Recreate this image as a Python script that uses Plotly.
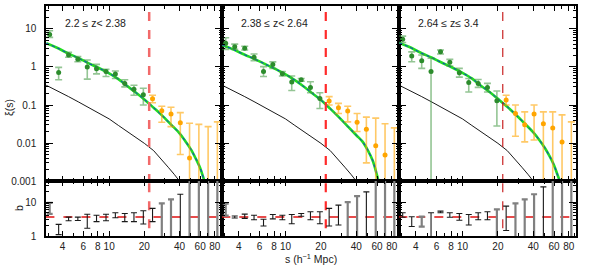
import plotly.graph_objects as go
import math

# ---------------- data ----------------
S = [3.1, 3.7, 4.5, 5.4, 6.5, 7.8, 9.4, 11.3, 13.6, 16.3, 19.6,
     23.5, 28.2, 33.8, 40.6, 48.7, 58.5, 70.2, 84.2]
N_SMALL = 11  # first bins (green), the rest orange

PANEL_LABELS = ["2.2 \u2264 z< 2.38", "2.38 \u2264 z< 2.64", "2.64 \u2264 z\u2264 3.4"]
S_CUT = 22

# panel 1 xi(s)
XI1 = [7.2, 0.72, 2.07, 1.59, 1.0, 0.9, 0.76, 0.65, 0.37, 0.26, 0.186,
       0.147, 0.071, 0.058, 0.034, 0.004, 0.0005, 0.0005, 0.0005]
XI1_HI = [9.0, 0.98, 2.43, 1.87, 1.53, 1.17, 0.87, 0.785, 0.46, 0.33, 0.275,
          0.18, 0.093, 0.087, 0.063, 0.033, 0.031, 0.027, 0.036]
XI1_LO = [6.0, 0.46, 1.8, 1.38, 0.48, 0.66, 0.56, 0.5, 0.30, 0.18, 0.10,
          0.115, 0.035, 0.027, 0.005, 1e-5, 1e-5, 1e-5, 1e-5]

# panel 2 xi(s)
XI2 = [4.2, 3.4, 3.1, 1.8, 0.76, 1.17, 0.66, 0.4, 0.46, 0.29, 0.148,
       0.127, 0.085, 0.069, 0.035, 0.023, 0.0085, 0.0048, 0.0005]
XI2_HI = [5.9, 4.0, 3.5, 2.2, 1.02, 1.36, 0.76, 0.58, 0.5, 0.41, 0.21,
          0.166, 0.11, 0.093, 0.06, 0.048, 0.045, 0.032, 0.025]
XI2_LO = [2.9, 2.9, 2.8, 1.47, 0.56, 0.92, 0.58, 0.24, 0.42, 0.21, 0.081,
          0.10, 0.06, 0.036, 0.02, 0.003, 1e-5, 1e-5, 1e-5]

# panel 3 xi(s)
XI3 = [5.35, 1.95, 1.47, 0.76, 2.5, 1.33, 0.71, 0.39, 0.37, 0.29, 0.13,
       0.135, 0.06, 0.03, 0.058, 0.032, 0.025, 0.0107, 0.0005]
XI3_HI = [6.5, 2.5, 2.07, 1.7, 2.8, 1.59, 0.92, 0.5, 0.47, 0.37, 0.234,
          0.18, 0.10, 0.066, 0.10, 0.066, 0.066, 0.055, 0.036]
XI3_LO = [4.4, 1.38, 0.92, 1e-5, 2.2, 1.06, 0.54, 0.22, 0.29, 0.22, 0.028,
          0.10, 0.015, 0.0107, 0.012, 1e-5, 1e-5, 1e-5, 1e-5]

# model curves
S_MODEL = [2.9, 3.5, 4.5, 5.5, 6.5, 8, 10, 12, 14, 17, 20, 24, 28, 34, 40,
           45, 50, 55, 60, 64, 68]
MODEL1 = [4.2, 3.3, 2.25, 1.7, 1.3, 0.97, 0.68, 0.48, 0.33, 0.21, 0.14, 0.085,
          0.055, 0.03, 0.018, 0.011, 0.0068, 0.0039, 0.0022, 0.0012, 0.0006]
MODEL2 = [3.8, 3.0, 2.1, 1.6, 1.25, 0.92, 0.64, 0.45, 0.32, 0.2, 0.135, 0.08,
          0.05, 0.027, 0.016, 0.011, 0.0065, 0.0035, 0.0014, 0.0006, 0.0003]
MODEL3 = [4.3, 3.4, 2.3, 1.75, 1.35, 1.0, 0.7, 0.5, 0.34, 0.22, 0.145, 0.09,
          0.058, 0.032, 0.019, 0.012, 0.0075, 0.0045, 0.0026, 0.0015, 0.0009]

S_LIN = [2.9, 3.5, 4.5, 5.5, 6.5, 8, 10, 12, 14, 17, 20, 24, 28, 32, 36, 40, 44]
XI_LIN = [0.33, 0.249, 0.166, 0.119, 0.089, 0.065, 0.043, 0.029, 0.021, 0.0138,
          0.0098, 0.0063, 0.0038, 0.0023, 0.0015, 0.001, 0.00068]

# bias b(s): upper / lower ends of each bar
B1_HI = [9.5, 2.2, 3.6, 3.6, 4.35, 4.1, 4.35, 4.85, 4.6, 4.85, 5.55, 6.5, 9.2, 12, 17, 100, 100, 100, 100]
B1_LO = [4.5, 1.1, 2.8, 2.85, 1.7, 2.65, 2.8, 3.45, 2.65, 2.65, 2.25, 2.65, 0.5, 0.5, 0.5, 0.5, 0.5, 0.5, 0.5]
B2_HI = [9.0, 3.9, 4.4, 4.1, 3.1, 4.3, 4.1, 4.3, 4.6, 5.2, 5.2, 6.5, 8.1, 10, 15, 20, 100, 100, 100]
B2_LO = [4.0, 3.4, 3.3, 3.0, 1.97, 3.2, 3.0, 2.3, 3.8, 3.0, 2.3, 1.97, 2.1, 0.5, 0.5, 0.5, 0.5, 0.5, 0.5]
B3_HI = [4.85, 3.7, 3.7, 4.85, 5.4, 4.85, 4.6, 4.3, 4.85, 5.2, 6.1, 7.6, 9.2, 12, 17, 28, 100, 100, 100]
B3_LO = [3.55, 1.9, 1.9, 0.5, 4.85, 3.55, 2.9, 2.1, 3.0, 3.0, 0.5, 1.45, 0.5, 0.5, 0.5, 0.5, 0.5, 0.5, 0.5]
B_FID = 3.6

# ---------------- styles ----------------
GREY_BINS = [[0, 12, 13, 15, 16, 17, 18], [0, 13, 14, 16, 17, 18], [2, 10, 12, 13, 14, 16, 17, 18]]
VLINE_STYLE = [dict(color="#F26A6A", width=2.5, dash="dash"),
               dict(color="#FF2A2A", width=2.2, dash="dash"),
               dict(color="#C41010", width=1.1, dash="dash")]

W, H = 590, 272
LEFT = [46, 222, 399]
RIGHT = [222, 399, 576]
TOP, MID, BOT = 6, 181, 236
XR = [0.46, 1.965]
YR_TOP = [-3, 1.605]
YR_BOT = [0, 1.62]
FONT = "Liberation Sans, Arial, sans-serif"
TXT = "#222222"

fig = go.Figure()

XI = [XI1, XI2, XI3]
XI_HI = [XI1_HI, XI2_HI, XI3_HI]
XI_LO = [XI1_LO, XI2_LO, XI3_LO]
MODELS = [MODEL1, MODEL2, MODEL3]
B_HI = [B1_HI, B2_HI, B3_HI]
B_LO = [B1_LO, B2_LO, B3_LO]

for i in range(3):
    xt = "x" if i == 0 else f"x{i+1}"
    yt = "y" if i == 0 else f"y{i+1}"
    xb = f"x{i+4}"
    yb = f"y{i+4}"

    # curves
    fig.add_trace(go.Scatter(x=S_LIN, y=XI_LIN, mode="lines", xaxis=xt, yaxis=yt,
                             line=dict(color="black", width=0.9), showlegend=False))
    fig.add_trace(go.Scatter(x=S_MODEL, y=MODELS[i], mode="lines", xaxis=xt, yaxis=yt,
                             line=dict(color="#22DD22", width=2.6, shape="spline"), showlegend=False))
    fig.add_trace(go.Scatter(x=S_MODEL, y=MODELS[i], mode="lines", xaxis=xt, yaxis=yt,
                             line=dict(color="#1030E0", width=1, dash="dot", shape="spline"),
                             showlegend=False))

    # data points
    for lo_i, hi_i, mcol, ecol in [(0, N_SMALL, "#2C8C2C", "rgba(60,150,60,0.55)"),
                                   (N_SMALL, len(S), "#FFA500", "rgba(255,165,0,0.6)")]:
        xs = S[lo_i:hi_i]
        ys = XI[i][lo_i:hi_i]
        up = [h - y for h, y in zip(XI_HI[i][lo_i:hi_i], ys)]
        dn = [y - l for l, y in zip(XI_LO[i][lo_i:hi_i], ys)]
        fig.add_trace(go.Scatter(x=xs, y=ys, mode="markers", xaxis=xt, yaxis=yt,
                                 marker=dict(color=mcol, size=5),
                                 error_y=dict(type="data", symmetric=False, array=up, arrayminus=dn,
                                              color=ecol, thickness=1.6, width=3.5),
                                 showlegend=False))

    # cut line
    for ax_x, ax_y, yy in [(xt, yt, [1e-4, 100]), (xb, yb, [0.5, 100])]:
        fig.add_trace(go.Scatter(x=[S_CUT, S_CUT], y=yy, mode="lines", xaxis=ax_x, yaxis=ax_y,
                                 line=VLINE_STYLE[i], showlegend=False))

    # bias panel
    fig.add_trace(go.Scatter(x=[2, 100], y=[B_FID, B_FID], mode="lines", xaxis=xb, yaxis=yb,
                             line=dict(color="#E01010", width=1.5, dash="dash"), showlegend=False))
    for grey in (False, True):
        idx = [k for k in range(len(S)) if (k in GREY_BINS[i]) == grey]
        xs = [S[k] for k in idx]
        cen = [math.sqrt(B_HI[i][k] * B_LO[i][k]) for k in idx]
        up = [B_HI[i][k] - c for k, c in zip(idx, cen)]
        dn = [c - B_LO[i][k] for k, c in zip(idx, cen)]
        fig.add_trace(go.Scatter(x=xs, y=cen, mode="markers", xaxis=xb, yaxis=yb,
                                 marker=dict(size=1, color="rgba(0,0,0,0)"),
                                 error_y=dict(type="data", symmetric=False, array=up, arrayminus=dn,
                                              color="#808080" if grey else "#1a1a1a",
                                              thickness=2.2 if grey else 1.1, width=3),
                                 showlegend=False))

XT = [4, 6, 8, 10, 20, 40, 60, 80]
XMIN = [3, 5, 7, 9, 30, 50, 70, 90]
YT_TOP = [0.001, 0.01, 0.1, 1, 10]
YMIN_TOP = [m * d for d in [0.001, 0.01, 0.1, 1, 10] for m in range(2, 10)]
YT_BOT = [1, 10]
YMIN_BOT = [2, 3, 4, 5, 6, 7, 8, 9, 20, 30, 40]

common = dict(showline=True, linecolor="black", linewidth=1.5, mirror="ticks",
              ticks="inside", tickcolor="black", tickwidth=1.1, showgrid=False, zeroline=False,
              automargin=False, tickfont=dict(family=FONT, size=10, color=TXT))

layout = dict(width=W, height=H, margin=dict(l=0, r=0, t=0, b=0, pad=0), autosize=False,
              paper_bgcolor="white", plot_bgcolor="white", showlegend=False)

for i in range(3):
    dom_x = [LEFT[i] / W, RIGHT[i] / W]
    kt = "" if i == 0 else str(i + 1)
    kb = str(i + 4)
    yt_name = "y" if i == 0 else f"y{i+1}"
    xt_name = "x" if i == 0 else f"x{i+1}"
    layout["xaxis" + kt] = dict(common, type="log", range=XR, domain=dom_x, anchor=yt_name,
                                tickvals=XT, showticklabels=False, ticklen=5,
                                minor=dict(tickvals=XMIN, ticklen=3, ticks="inside", tickcolor="black"))
    layout["xaxis" + kb] = dict(common, type="log", range=XR, domain=dom_x, anchor="y" + kb,
                                tickvals=XT, ticktext=[str(v) for v in XT], showticklabels=True,
                                ticklen=5,
                                minor=dict(tickvals=XMIN, ticklen=3, ticks="inside", tickcolor="black"))
    layout["yaxis" + kt] = dict(common, type="log", range=YR_TOP,
                                domain=[(H - MID) / H, (H - TOP) / H], anchor=xt_name,
                                tickvals=YT_TOP, ticktext=["0.001", "0.01", "0.1", "1", "10"],
                                showticklabels=(i == 0), ticklen=7, ticklabelstandoff=6,
                                minor=dict(tickvals=YMIN_TOP, ticklen=3.5, ticks="inside", tickcolor="black"))
    layout["yaxis" + kb] = dict(common, type="log", range=YR_BOT,
                                domain=[(H - BOT) / H, (H - MID) / H], anchor="x" + kb,
                                tickvals=YT_BOT, ticktext=["1", "10"],
                                showticklabels=(i == 0), ticklen=7, ticklabelstandoff=6,
                                minor=dict(tickvals=YMIN_BOT, ticklen=3.5, ticks="inside", tickcolor="black"))

ann = []
for i in range(3):
    ann.append(dict(text=PANEL_LABELS[i], xref="paper", yref="paper",
                    x=(LEFT[i] + 17) / W, y=(H - 23) / H, xanchor="left", yanchor="middle",
                    showarrow=False, font=dict(family=FONT, size=10.5, color=TXT)))
ann.append(dict(text="\u03be(s)", xref="paper", yref="paper", x=9 / W, y=(H - 108) / H,
                xanchor="center", yanchor="middle",
                textangle=-90, showarrow=False, font=dict(family=FONT, size=10.5, color=TXT)))
ann.append(dict(text="b", xref="paper", yref="paper", x=19 / W, y=(H - 208) / H,
                xanchor="center", yanchor="middle",
                textangle=-90, showarrow=False, font=dict(family=FONT, size=10.5, color=TXT)))
ann.append(dict(text="s (h<sup>\u22121</sup> Mpc)", xref="paper", yref="paper", x=311 / W, y=(H - 258) / H,
                xanchor="center", yanchor="middle",
                showarrow=False, font=dict(family=FONT, size=10.5, color=TXT)))
layout["annotations"] = ann

fig.update_layout(**layout)
fig.write_html("out.html", config={"displayModeBar": False},
               post_script="document.body.style.margin='0';document.body.style.padding='0';")
